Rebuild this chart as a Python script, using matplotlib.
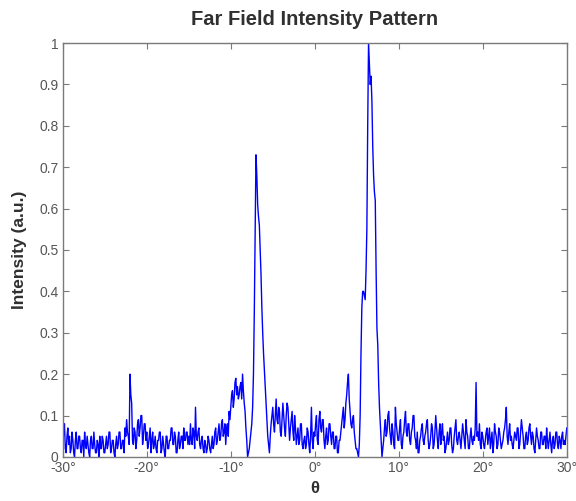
import matplotlib
matplotlib.use("Agg")
import matplotlib.pyplot as plt
import numpy as np

# intensity samples, one every 0.1 deg from -30 to +30
# each row is one degree
intensity = [
    0.03, 0.06, 0.08, 0.02, 0.01, 0.05, 0.07, 0.03, 0.05, 0.01,  # -30
    0.02, 0.06, 0.04, 0.01, 0.00, 0.04, 0.06, 0.02, 0.02, 0.05,  # -29
    0.05, 0.02, 0.01, 0.04, 0.04, 0.00, 0.06, 0.03, 0.02, 0.05,  # -28
    0.03, 0.01, 0.00, 0.04, 0.05, 0.02, 0.02, 0.06, 0.03, 0.01,  # -27
    0.01, 0.04, 0.03, 0.00, 0.05, 0.02, 0.02, 0.05, 0.04, 0.01,  # -26
    0.01, 0.03, 0.05, 0.02, 0.03, 0.06, 0.06, 0.01, 0.02, 0.04,  # -25
    0.04, 0.01, 0.00, 0.03, 0.05, 0.02, 0.03, 0.06, 0.06, 0.02,  # -24
    0.02, 0.04, 0.04, 0.01, 0.07, 0.05, 0.09, 0.06, 0.05, 0.03,  # -23
    0.20, 0.15, 0.13, 0.04, 0.03, 0.07, 0.06, 0.02, 0.04, 0.08,  # -22
    0.09, 0.05, 0.07, 0.10, 0.10, 0.03, 0.05, 0.08, 0.08, 0.04,  # -21
    0.06, 0.02, 0.03, 0.05, 0.07, 0.01, 0.04, 0.06, 0.02, 0.03,  # -20
    0.05, 0.02, 0.01, 0.04, 0.04, 0.06, 0.06, 0.01, 0.02, 0.05,  # -19
    0.03, 0.01, 0.00, 0.05, 0.05, 0.02, 0.02, 0.04, 0.04, 0.07,  # -18
    0.07, 0.03, 0.03, 0.06, 0.05, 0.01, 0.01, 0.04, 0.06, 0.02,  # -17
    0.03, 0.05, 0.05, 0.02, 0.07, 0.04, 0.04, 0.06, 0.06, 0.03,  # -16
    0.05, 0.03, 0.08, 0.04, 0.03, 0.07, 0.06, 0.02, 0.12, 0.05,  # -15
    0.04, 0.06, 0.07, 0.03, 0.02, 0.04, 0.05, 0.02, 0.01, 0.04,  # -14
    0.03, 0.01, 0.02, 0.05, 0.04, 0.02, 0.01, 0.03, 0.05, 0.02,  # -13
    0.03, 0.06, 0.07, 0.03, 0.04, 0.06, 0.08, 0.04, 0.05, 0.08,  # -12
    0.09, 0.05, 0.06, 0.08, 0.03, 0.07, 0.08, 0.05, 0.11, 0.09,  # -11
    0.12, 0.15, 0.16, 0.12, 0.14, 0.18, 0.19, 0.15, 0.17, 0.14,  # -10
    0.15, 0.17, 0.18, 0.14, 0.20, 0.16, 0.13, 0.11, 0.07, 0.04,  # -9
    0.00, 0.01, 0.02, 0.04, 0.06, 0.08, 0.12, 0.20, 0.35, 0.55,  # -8
    0.73, 0.68, 0.61, 0.58, 0.56, 0.50, 0.44, 0.36, 0.30, 0.25,  # -7
    0.21, 0.17, 0.13, 0.09, 0.05, 0.03, 0.01, 0.05, 0.08, 0.10,  # -6
    0.12, 0.08, 0.06, 0.10, 0.14, 0.09, 0.08, 0.12, 0.11, 0.06,  # -5
    0.05, 0.09, 0.13, 0.10, 0.07, 0.05, 0.10, 0.13, 0.12, 0.08,  # -4
    0.04, 0.07, 0.09, 0.11, 0.06, 0.04, 0.10, 0.07, 0.03, 0.05,  # -3
    0.07, 0.03, 0.04, 0.08, 0.08, 0.03, 0.02, 0.04, 0.05, 0.02,  # -2
    0.03, 0.07, 0.06, 0.03, 0.01, 0.05, 0.12, 0.04, 0.02, 0.06,  # -1
    0.05, 0.08, 0.10, 0.04, 0.03, 0.09, 0.11, 0.07, 0.06, 0.09,  # 0
    0.09, 0.04, 0.02, 0.05, 0.07, 0.03, 0.04, 0.08, 0.08, 0.05,  # 1
    0.03, 0.06, 0.06, 0.02, 0.02, 0.05, 0.05, 0.01, 0.01, 0.04,  # 2
    0.04, 0.06, 0.08, 0.10, 0.12, 0.07, 0.09, 0.13, 0.15, 0.18,  # 3
    0.20, 0.14, 0.11, 0.08, 0.07, 0.09, 0.10, 0.06, 0.04, 0.02,  # 4
    0.02, 0.01, 0.00, 0.03, 0.10, 0.25, 0.36, 0.40, 0.40, 0.39,  # 5
    0.38, 0.45, 0.55, 0.80, 1.00, 0.95, 0.90, 0.92, 0.86, 0.75,  # 6
    0.68, 0.64, 0.62, 0.45, 0.31, 0.27, 0.18, 0.12, 0.08, 0.04,  # 7
    0.00, 0.02, 0.04, 0.07, 0.09, 0.05, 0.06, 0.10, 0.11, 0.07,  # 8
    0.05, 0.03, 0.08, 0.06, 0.03, 0.02, 0.12, 0.08, 0.06, 0.04,  # 9
    0.04, 0.07, 0.09, 0.03, 0.02, 0.05, 0.06, 0.09, 0.11, 0.06,  # 10
    0.05, 0.08, 0.08, 0.04, 0.03, 0.06, 0.07, 0.10, 0.10, 0.05,  # 11
    0.04, 0.02, 0.06, 0.01, 0.01, 0.04, 0.05, 0.07, 0.08, 0.04,  # 12
    0.03, 0.05, 0.06, 0.08, 0.09, 0.04, 0.02, 0.03, 0.05, 0.08,  # 13
    0.07, 0.02, 0.03, 0.06, 0.10, 0.07, 0.04, 0.02, 0.06, 0.08,  # 14
    0.03, 0.06, 0.08, 0.04, 0.05, 0.01, 0.02, 0.04, 0.06, 0.03,  # 15
    0.04, 0.07, 0.07, 0.03, 0.01, 0.02, 0.05, 0.07, 0.09, 0.04,  # 16
    0.03, 0.05, 0.06, 0.04, 0.02, 0.05, 0.08, 0.06, 0.04, 0.02,  # 17
    0.09, 0.06, 0.05, 0.02, 0.02, 0.05, 0.07, 0.04, 0.03, 0.05,  # 18
    0.04, 0.07, 0.18, 0.05, 0.06, 0.04, 0.08, 0.03, 0.02, 0.06,  # 19
    0.05, 0.03, 0.02, 0.04, 0.06, 0.07, 0.03, 0.05, 0.07, 0.02,  # 20
    0.04, 0.06, 0.01, 0.03, 0.08, 0.06, 0.05, 0.02, 0.03, 0.07,  # 21
    0.06, 0.04, 0.02, 0.03, 0.04, 0.06, 0.07, 0.09, 0.12, 0.05,  # 22
    0.03, 0.06, 0.08, 0.04, 0.05, 0.03, 0.02, 0.04, 0.06, 0.05,  # 23
    0.04, 0.07, 0.07, 0.02, 0.03, 0.06, 0.09, 0.07, 0.05, 0.02,  # 24
    0.02, 0.05, 0.06, 0.03, 0.04, 0.07, 0.08, 0.05, 0.03, 0.06,  # 25
    0.05, 0.02, 0.01, 0.04, 0.07, 0.05, 0.04, 0.02, 0.02, 0.06,  # 26
    0.06, 0.03, 0.03, 0.05, 0.05, 0.02, 0.07, 0.04, 0.02, 0.04,  # 27
    0.06, 0.03, 0.01, 0.04, 0.05, 0.02, 0.03, 0.06, 0.06, 0.03,  # 28
    0.02, 0.05, 0.04, 0.02, 0.05, 0.06, 0.03, 0.04, 0.03, 0.05,  # 29
    0.07,                                                        # 30
]

# sampling grid of the measurement
theta = np.linspace(-30, 30, len(intensity))

x_ticks = [-30, -20, -10, 0, 10, 20, 30]
x_labels = ["-30°", "-20°", "-10°", "0°", "10°", "20°", "30°"]
y_ticks = [0, 0.1, 0.2, 0.3, 0.4, 0.5, 0.6, 0.7, 0.8, 0.9, 1]
y_labels = ["0", "0.1", "0.2", "0.3", "0.4", "0.5", "0.6", "0.7", "0.8", "0.9", "1"]

plt.rcParams["font.family"] = ["Liberation Sans", "DejaVu Sans"]

fig = plt.figure(figsize=(5.76, 5.01), dpi=100)
ax = fig.add_axes([0.109, 0.088, 0.875, 0.826])

ax.plot(theta, intensity, color="#0000ff", linewidth=1.0)

ax.set_xlim(-30, 30)
ax.set_ylim(0, 1)
ax.set_xticks(x_ticks)
ax.set_xticklabels(x_labels)
ax.set_yticks(y_ticks)
ax.set_yticklabels(y_labels)

# matlab-ish box with inward ticks on all sides
for s in ax.spines.values():
    s.set_color("#7a7a7a")
    s.set_linewidth(1.0)
ax.tick_params(direction="in", top=True, right=True, length=4,
               color="#7a7a7a", labelcolor="#555555", labelsize=10, pad=3)

ax.set_title("Far Field Intensity Pattern", fontsize=14.5, fontweight="bold",
             color="#303030", pad=13)
ax.set_ylabel("Intensity (a.u.)", fontsize=12.5, fontweight="bold",
              color="#303030", labelpad=9)
ax.set_xlabel("θ", fontsize=12, fontweight="bold", color="#303030",
              labelpad=4)

fig.savefig("out.png", dpi=100)
